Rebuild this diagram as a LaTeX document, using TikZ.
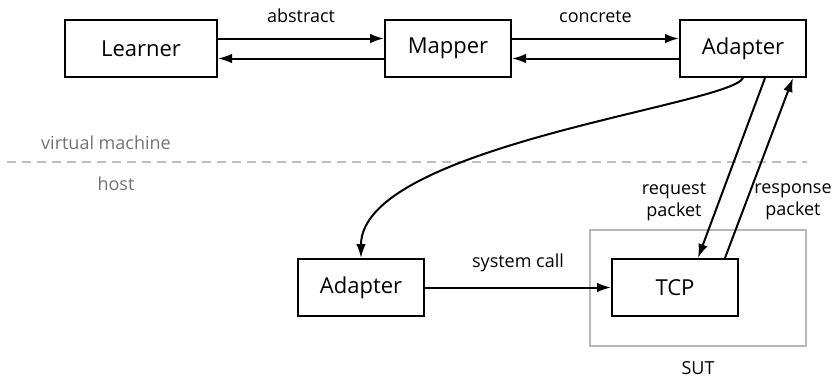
\documentclass[tikz,border=0pt]{standalone}
\usepackage{fontspec}
\setmainfont{Open Sans}
\usepackage{tikz}
\usetikzlibrary{arrows.meta}
\usetikzlibrary{positioning}

\begin{document}
\begin{tikzpicture}[x=1pt,y=1pt,->,>={Latex[length=7pt,width=4.8pt]},line width=1pt,
    main node/.style={rectangle,draw,line width=1pt,minimum width=63pt,minimum height=28.5pt,font=\fontsize{11}{13}\selectfont},
    small node/.style={font=\fontsize{9}{11}\selectfont,align=center},
    side node/.style={font=\fontsize{9}{11}\selectfont,text=black!55}]
   \useasboundingbox (0,0) rectangle (418,188.5);
   % virtual machine side
   \node[main node,minimum width=76pt] (learner) at (70.5,164.25) {Learner};
   \node[main node] (mapper) at (224,164.25) {Mapper};
   \node[main node] (adapter) at (371.5,164.25) {Adapter};
   \path ([yshift=5pt]learner.east) edge node[small node,above=4pt] {abstract} ([yshift=5pt]mapper.west);
   \path ([yshift=-5pt]mapper.west) edge ([yshift=-5pt]learner.east);
   \path ([yshift=5pt]mapper.east) edge node[small node,above=4pt] {concrete} ([yshift=5pt]adapter.west);
   \path ([yshift=-5pt]adapter.west) edge ([yshift=-5pt]mapper.east);
   % split between guest and host
   \draw[-,black!25,dash pattern=on 4.5pt off 3pt] (3.5,107.5) -- (403.5,107.5);
   \node[side node] (vm) at (53,117) {virtual machine};
   \node[side node] (host) at (58,96.5) {host};
   % host side
   \draw[-,black!28] (295,15.5) rectangle (403,73.5);
   \node[small node] (sut) at (349,4.5) {SUT};
   \node[main node] (hadapter) at (180.5,44.75) {Adapter};
   \node[main node] (tcp) at (337.5,44.75) {TCP};
   \path (adapter.south) edge[out=-115,in=90,out distance=15pt,in distance=56pt] (hadapter.north);
   \path (hadapter.east) edge node[small node,above=4pt] {system call} (tcp.west);
   \path ([xshift=11pt]adapter.south) edge ([xshift=11.5pt]tcp.north);
   \path ([xshift=25pt]tcp.north) edge ([xshift=25pt]adapter.south);
   \node[small node] (req) at (337,87.5) {request\\packet};
   \node[small node] (resp) at (396.5,87.5) {response\\packet};
\end{tikzpicture}
\end{document}
